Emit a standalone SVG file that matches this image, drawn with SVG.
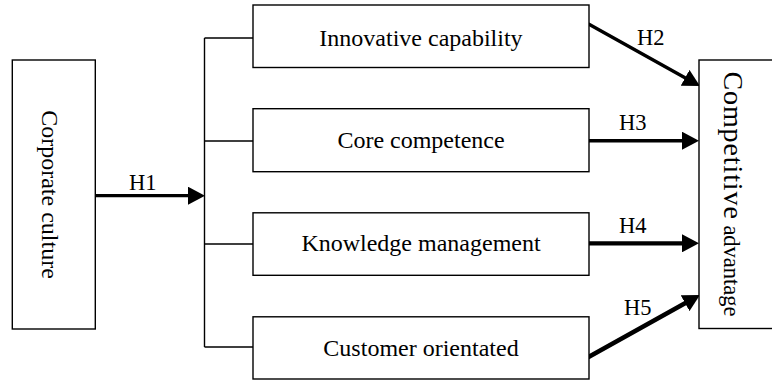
<svg xmlns="http://www.w3.org/2000/svg" width="772" height="382" viewBox="0 0 772 382">
  <style>
    .box { fill: #ffffff; stroke: #000000; stroke-width: 1.4; }
    .lbl { font-family: "Liberation Serif", "Times New Roman", serif; font-size: 24px; fill: #000000; }
    .hyp { font-family: "Liberation Serif", "Times New Roman", serif; font-size: 22.5px; fill: #000000; }
    .tree { fill: none; stroke: #000000; stroke-width: 1.4; }
    .arr { fill: none; stroke: #000000; stroke-linecap: round; marker-end: url(#head); }
  </style>
  <defs>
    <marker id="head" markerUnits="userSpaceOnUse" viewBox="0 0 17 18" refX="4" refY="9" markerWidth="17" markerHeight="18" orient="auto">
      <path d="M0,0 L17,9 L0,18 Z" fill="#000000"/>
    </marker>
  </defs>

  <rect width="772" height="382" fill="#ffffff"/>

  <!-- connectors -->
  <g id="connectors">
    <!-- fan-out tree to the four mediators -->
    <path class="tree" d="M204.5,38 V347 M204.5,38 H253 M204.5,141 H253 M204.5,244 H253 M204.5,347 H253"/>
    <line class="arr" x1="94" y1="195.7" x2="192" y2="195.7" stroke-width="3.2"/>
    <line class="arr" x1="589" y1="24.3" x2="688.6" y2="79.7" stroke-width="3.4"/>
    <line class="arr" x1="589" y1="140.7" x2="686" y2="140.7" stroke-width="3.4"/>
    <line class="arr" x1="589" y1="243.3" x2="686" y2="243.3" stroke-width="4.2"/>
    <line class="arr" x1="589" y1="356.7" x2="688.6" y2="301.3" stroke-width="4.6"/>
    <text class="hyp" x="129" y="190">H1</text>
    <text class="hyp" x="637" y="45">H2</text>
    <text class="hyp" x="619" y="130">H3</text>
    <text class="hyp" x="619" y="232.7">H4</text>
    <text class="hyp" x="624" y="315">H5</text>
  </g>

  <g id="corporate-culture">
    <rect class="box" x="12.3" y="60" width="83" height="269"/>
    <text class="lbl" transform="translate(41.5,194.5) rotate(90)" text-anchor="middle">Corporate culture</text>
  </g>

  <g id="innovative-capability">
    <rect class="box" x="253" y="5" width="336" height="62.5"/>
    <text class="lbl" x="421" y="46" text-anchor="middle">Innovative capability</text>
  </g>

  <g id="core-competence">
    <rect class="box" x="253" y="108.7" width="336" height="63"/>
    <text class="lbl" x="421" y="147.7" text-anchor="middle">Core competence</text>
  </g>

  <g id="knowledge-management">
    <rect class="box" x="253" y="212.8" width="336" height="62.5"/>
    <text class="lbl" x="421" y="251" text-anchor="middle">Knowledge management</text>
  </g>

  <g id="customer-orientated">
    <rect class="box" x="253" y="316.8" width="336" height="62.2"/>
    <text class="lbl" x="421" y="356" text-anchor="middle">Customer orientated</text>
  </g>

  <g id="competitive-advantage">
    <rect class="box" x="699" y="60" width="90" height="268.5"/>
    <text class="lbl" transform="translate(723.5,194) rotate(90)" text-anchor="middle"><tspan font-size="28" letter-spacing="0.9">Competitive</tspan><tspan font-size="22.5"> advantage</tspan></text>
  </g>
</svg>
